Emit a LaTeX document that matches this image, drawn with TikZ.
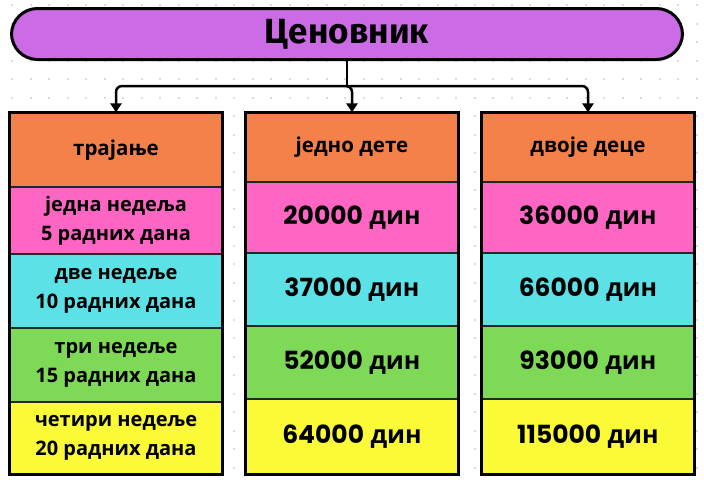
\documentclass[tikz,border=0pt]{standalone}
\usepackage{fontspec}
\setmainfont{Open Sans}
\newfontfamily\titlefont{Fira Sans}
\newfontfamily\popfont{Poppins}
\usetikzlibrary{arrows.meta}
\definecolor{purp}{HTML}{CB6CE6}
\definecolor{orng}{HTML}{F4814A}
\definecolor{pnk}{HTML}{FF66C4}
\definecolor{cyn}{HTML}{5CE1E6}
\definecolor{grn}{HTML}{7ED957}
\definecolor{ylw}{HTML}{FAFA36}
\definecolor{dotc}{HTML}{DCDCDC}
\newcommand\pnum[1]{{\popfont\bfseries #1}}
\tikzset{
  titlebox/.style={draw=black, line width=3pt, fill=purp, rounded corners=26pt,
    minimum width=671pt, minimum height=51pt, font=\titlefont\bfseries\fontsize{35}{36}\selectfont},
  cell/.style={draw=black!85, line width=1.2pt, minimum width=212pt, align=center, inner sep=0pt},
  headcell/.style={cell, fill=orng, font=\bfseries\fontsize{20.5}{24}\selectfont},
  leftcell/.style={cell, font=\bfseries\fontsize{20}{29}\selectfont},
  valcell/.style={cell, font=\bfseries\fontsize{25}{28}\selectfont},
  frame/.style={draw=black, line width=3pt},
  conn/.style={draw=black, line width=2.5pt, rounded corners=6pt},
  arr/.style={conn, -{Triangle[width=11pt,length=9pt]}}
}
\begin{document}
\begin{tikzpicture}[x=1pt,y=-1pt]
\useasboundingbox (0,0) rectangle (704,482);
\fill[white] (0,0) rectangle (704,482);
\foreach \i in {0,...,38}{\foreach \j in {0,...,26}{
  \fill[dotc] ({12+\i*18.5-1},{5+\j*18.5-1}) rectangle ++(2.2,2.2);}}
\node[titlebox] (title) at (347,34) {Ценовник};
% column 1
\node[headcell, minimum height=74pt] (h1) at (116,150) {трајање};
\node[leftcell, fill=pnk, minimum height=67pt] (a1) at (116,220.5) {једна недеља\\5 радних дана};
\node[leftcell, fill=cyn, minimum height=74pt] (a2) at (116,291) {две недеље\\10 радних дана};
\node[leftcell, fill=grn, minimum height=74pt] (a3) at (116,365) {три недеље\\15 радних дана};
\node[leftcell, fill=ylw, minimum height=72pt] (a4) at (116,438) {четири недеље\\20 радних дана};
% column 2
\node[headcell, minimum height=69pt] (h2) at (352,147.5) {једно дете};
\node[valcell, fill=pnk, minimum height=71pt] (b1) at (352,217.5) {\pnum{20000} дин};
\node[valcell, fill=cyn, minimum height=73pt] (b2) at (352,289.5) {\pnum{37000} дин};
\node[valcell, fill=grn, minimum height=73pt] (b3) at (352,362.5) {\pnum{52000} дин};
\node[valcell, fill=ylw, minimum height=75pt] (b4) at (352,436.5) {\pnum{64000} дин};
% column 3
\node[headcell, minimum height=69pt] (h3) at (588,147.5) {двоје деце};
\node[valcell, fill=pnk, minimum height=71pt] (c1) at (588,217.5) {\pnum{36000} дин};
\node[valcell, fill=cyn, minimum height=73pt] (c2) at (588,289.5) {\pnum{66000} дин};
\node[valcell, fill=grn, minimum height=73pt] (c3) at (588,362.5) {\pnum{93000} дин};
\node[valcell, fill=ylw, minimum height=75pt] (c4) at (588,436.5) {\pnum{115000} дин};
% frames
\draw[frame] (h1.north west) rectangle (a4.south east);
\draw[frame] (h2.north west) rectangle (b4.south east);
\draw[frame] (h3.north west) rectangle (c4.south east);
% connectors
\draw[conn] (title.south) -- ++(0,25) coordinate (j);
\draw[arr] (j) -| (h1.north);
\draw[arr] (j) -| (h2.north);
\draw[arr] (j) -| (h3.north);
\end{tikzpicture}
\end{document}
